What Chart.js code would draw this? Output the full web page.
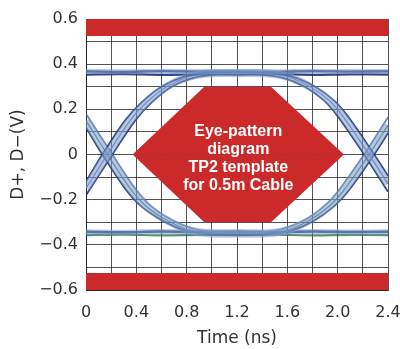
<!DOCTYPE html>
<html>
<head>
<meta charset="utf-8">
<script src="https://cdn.jsdelivr.net/npm/chart.js@4.4.1/dist/chart.umd.min.js"></script>
<style>
  html, body { margin: 0; padding: 0; background: #ffffff; }
  #wrap { width: 400px; height: 349px; }
</style>
</head>
<body>
<div id="wrap"><canvas id="eye" width="400" height="349"></canvas></div>
<script>
// Grid positions and axis labels
const timeGrid = [0, 0.2, 0.4, 0.6, 0.8, 1.0, 1.2, 1.4, 1.6, 1.8, 2.0, 2.2, 2.4];
const voltGrid = [-0.6, -0.5, -0.4, -0.3, -0.2, -0.1, 0, 0.1, 0.2, 0.3, 0.4, 0.5, 0.6];
const timeTickLabels = ['0', '0.4', '0.8', '1.2', '1.6', '2.0', '2.4'];
const voltTickLabels = ['\u22120.6', '\u22120.4', '\u22120.2', '0', '0.2', '0.4', '0.6'];

// Keep-out regions of the TP2 template (ns, V)
const bandTime = [0, 2.4];
const upperBandV = [0.6, 0.6];
const lowerBandV = [-0.6, -0.6];
const bandEdge = 0.525;
const maskTime = [0.37, 0.94, 1.47, 2.05];
const maskUpperV = [0, 0.3, 0.3, 0];
const maskLowerV = [0, -0.3, -0.3, 0];
const templateText = ['Eye-pattern', 'diagram', 'TP2 template', 'for 0.5m Cable'];

// Measured traces: rising edge -> high -> falling edge (three jitter strands)
const upperMidT   = [0, 0.17, 0.35, 0.48, 0.64, 0.82, 1.00, 1.21, 1.42, 1.60, 1.78, 1.93, 2.04, 2.25, 2.40];
const upperMidV   = [-0.15, 0, 0.15, 0.23, 0.30, 0.345, 0.36, 0.36, 0.36, 0.345, 0.30, 0.24, 0.17, 0, -0.13];
const upperOuterT = [0, 0.13, 0.31, 0.44, 0.60, 0.78, 0.96, 1.21, 1.46, 1.64, 1.82, 1.97, 2.08, 2.29, 2.40];
const upperOuterV = [-0.12, 0, 0.15, 0.23, 0.30, 0.345, 0.362, 0.365, 0.362, 0.345, 0.30, 0.24, 0.17, 0, -0.095];
const upperInnerT = [0, 0.21, 0.39, 0.52, 0.68, 0.86, 1.04, 1.21, 1.38, 1.56, 1.74, 1.89, 2.00, 2.21, 2.40];
const upperInnerV = [-0.18, 0, 0.15, 0.23, 0.30, 0.34, 0.355, 0.356, 0.355, 0.34, 0.30, 0.24, 0.17, 0, -0.165];

// Falling edge -> low -> rising edge
const lowerMidT   = [0, 0.17, 0.35, 0.48, 0.64, 0.82, 1.00, 1.21, 1.42, 1.60, 1.78, 1.93, 2.04, 2.25, 2.40];
const lowerMidV   = [0.15, 0, -0.15, -0.23, -0.29, -0.335, -0.35, -0.35, -0.35, -0.335, -0.29, -0.23, -0.165, 0, 0.13];
const lowerOuterT = [0, 0.13, 0.31, 0.44, 0.60, 0.78, 0.96, 1.21, 1.46, 1.64, 1.82, 1.97, 2.08, 2.29, 2.40];
const lowerOuterV = [0.12, 0, -0.15, -0.23, -0.29, -0.335, -0.352, -0.356, -0.352, -0.335, -0.29, -0.23, -0.165, 0, 0.095];
const lowerInnerT = [0, 0.21, 0.39, 0.52, 0.68, 0.86, 1.04, 1.21, 1.38, 1.56, 1.74, 1.89, 2.00, 2.21, 2.40];
const lowerInnerV = [0.18, 0, -0.15, -0.23, -0.29, -0.33, -0.345, -0.346, -0.345, -0.33, -0.29, -0.23, -0.165, 0, 0.165];

// Steady high / low levels across the whole window
const railT       = [0, 0.3, 0.6, 0.9, 1.2, 1.5, 1.8, 2.1, 2.4];
const highRailA   = [0.368, 0.366, 0.369, 0.367, 0.368, 0.366, 0.369, 0.367, 0.368];
const highRailB   = [0.354, 0.356, 0.353, 0.355, 0.354, 0.356, 0.353, 0.355, 0.354];
const lowRailA    = [-0.342, -0.344, -0.341, -0.343, -0.342, -0.344, -0.341, -0.343, -0.342];
const lowRailB    = [-0.357, -0.355, -0.358, -0.356, -0.357, -0.355, -0.358, -0.356, -0.357];

const pts = (t, v) => t.map((x, i) => ({ x: x, y: v[i] }));

const RED = '#cc2a2a';
const NAVY = 'rgba(28, 50, 120, 0.9)';
const STEEL = 'rgba(75, 110, 170, 0.8)';
const PALE = 'rgba(125, 155, 200, 0.55)';
const GREEN = 'rgba(40, 120, 75, 0.8)';

function trace(t, v, color, width) {
  return {
    data: pts(t, v), borderColor: color, borderWidth: width,
    pointRadius: 0, tension: 0.35, fill: false, order: 1
  };
}

function area(t, v, target) {
  return {
    data: pts(t, v), borderWidth: 0, borderColor: RED, backgroundColor: RED,
    pointRadius: 0, tension: 0, fill: target, order: 10
  };
}

const datasets = [
  // wide pale cores
  trace(upperMidT, upperMidV, PALE, 8),
  trace(lowerMidT, lowerMidV, PALE, 8),
  trace(railT, highRailA, PALE, 5),
  trace(railT, lowRailA, PALE, 5),
  // strands
  trace(upperOuterT, upperOuterV, NAVY, 1.8),
  trace(upperMidT, upperMidV, STEEL, 1.4),
  trace(upperInnerT, upperInnerV, NAVY, 1.8),
  trace(lowerOuterT, lowerOuterV, NAVY, 1.8),
  trace(lowerMidT, lowerMidV, GREEN, 1.4),
  trace(lowerInnerT, lowerInnerV, STEEL, 1.8),
  trace(railT, highRailA, NAVY, 2.4),
  trace(railT, highRailB, NAVY, 2.2),
  trace(railT, lowRailA, NAVY, 2.4),
  trace(railT, lowRailB, GREEN, 2.2),
  // template keep-out areas
  area(bandTime, upperBandV, { value: bandEdge }),
  area(bandTime, lowerBandV, { value: -bandEdge }),
  area(maskTime, maskUpperV, 'origin'),
  area(maskTime, maskLowerV, 'origin')
];

const GRID = 'rgba(25, 25, 25, 0.75)';
const TEXT = '#333333';
const tickFont = { family: 'DejaVu Sans', size: 16 };
const titleFont = { family: 'DejaVu Sans', size: 17 };

const templateLabel = {
  id: 'templateLabel',
  afterDraw(chart) {
    const { ctx, scales } = chart;
    const cx = scales.x.getPixelForValue(1.21);
    const cy = scales.y.getPixelForValue(0) + 4;
    ctx.save();
    ctx.fillStyle = '#ffffff';
    ctx.font = 'bold 16px "Liberation Sans", Arial, sans-serif';
    ctx.textAlign = 'center';
    ctx.textBaseline = 'middle';
    templateText.forEach((line, i) => ctx.fillText(line, cx, cy + (i - 1.5) * 18));
    ctx.restore();
  }
};

new Chart(document.getElementById('eye'), {
  type: 'line',
  data: { datasets: datasets },
  options: {
    responsive: false,
    animation: false,
    layout: { padding: { top: 19, right: 0, left: 8, bottom: 0 } },
    plugins: { legend: { display: false }, tooltip: { enabled: false } },
    scales: {
      x: {
        type: 'linear', min: 0, max: 2.4, z: 1,
        afterBuildTicks: s => { s.ticks = timeGrid.map(v => ({ value: v })); },
        afterFit: s => { s.height = 59; s.paddingRight = 12; },
        grid: { color: GRID, lineWidth: 1, drawTicks: false },
        border: { display: true, color: GRID, width: 1 },
        ticks: {
          padding: 13, maxRotation: 0, autoSkip: false, color: TEXT, font: tickFont,
          callback: (v, i) => (i % 2 === 0 ? timeTickLabels[i / 2] : '')
        },
        title: { display: true, text: 'Time (ns)', color: TEXT, font: titleFont, padding: { top: 0, bottom: 0 } }
      },
      y: {
        type: 'linear', min: -0.6, max: 0.6, z: 1,
        afterBuildTicks: s => { s.ticks = voltGrid.map(v => ({ value: v })); },
        afterFit: s => { s.width = 78; },
        grid: { color: GRID, lineWidth: 1, drawTicks: false },
        border: { display: true, color: GRID, width: 1 },
        ticks: {
          padding: 8, autoSkip: false, color: TEXT, font: tickFont,
          callback: (v, i) => (i % 2 === 0 ? voltTickLabels[i / 2] : '')
        },
        title: { display: true, text: 'D+, D\u2212(V)', color: TEXT, font: titleFont, padding: { top: 0, bottom: 0 } }
      }
    }
  },
  plugins: [templateLabel]
});
</script>
</body>
</html>
